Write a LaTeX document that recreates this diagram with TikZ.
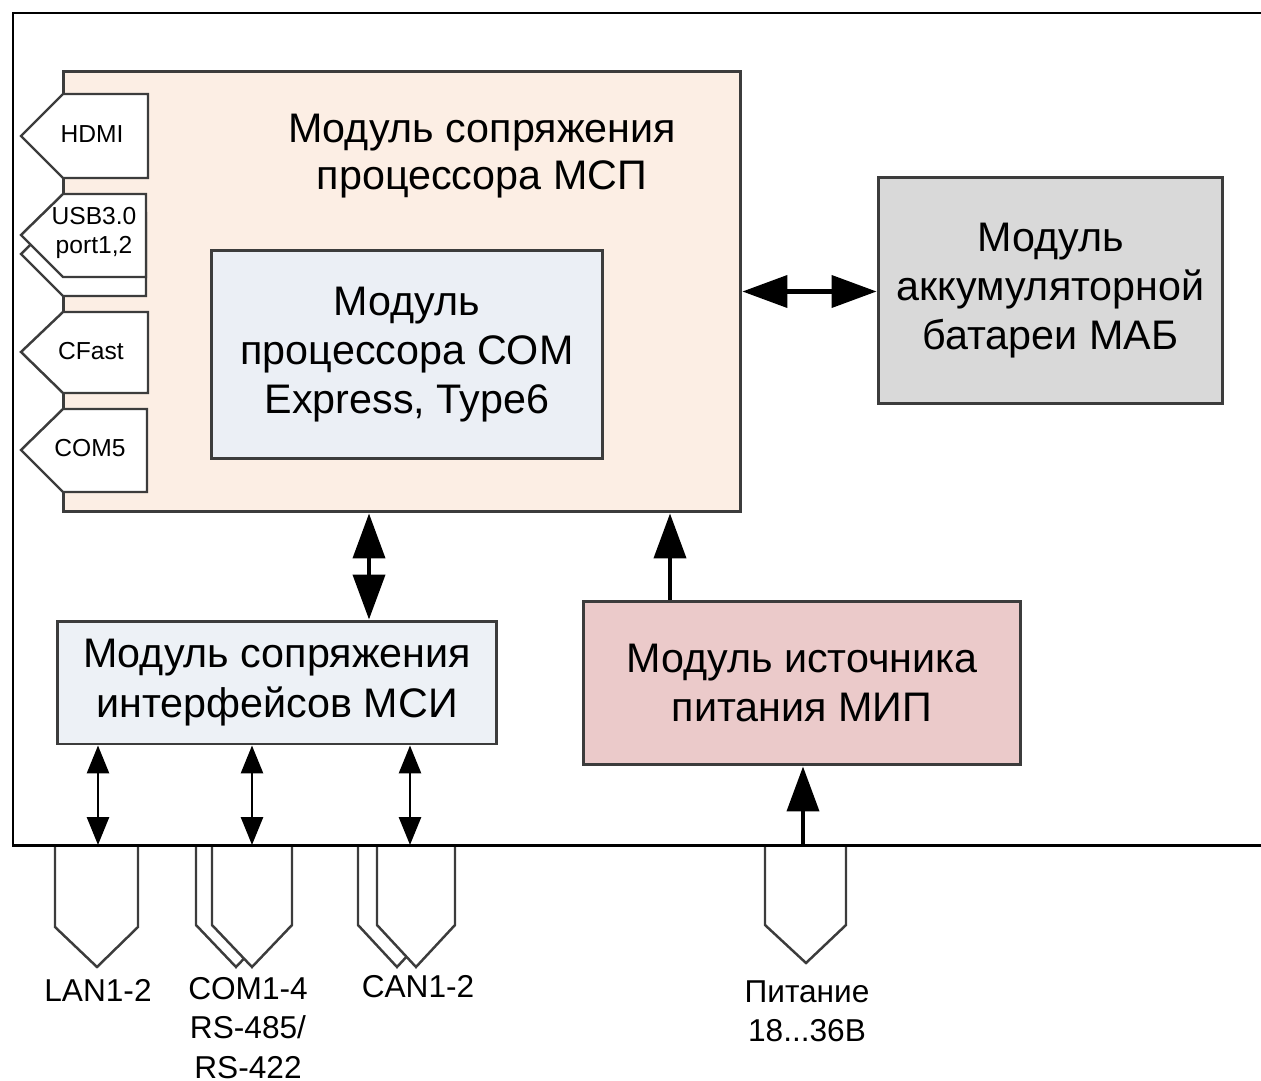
\documentclass[tikz,border=0pt]{standalone}
\usepackage{fontspec}
\setmainfont{Liberation Sans}
\usetikzlibrary{arrows.meta}
\definecolor{mspfill}{HTML}{FCEEE4}
\definecolor{comfill}{HTML}{EBEFF5}
\definecolor{mabfill}{HTML}{D9D9D9}
\definecolor{msifill}{HTML}{EDF1F6}
\definecolor{mipfill}{HTML}{EBCACA}
\definecolor{boxline}{HTML}{3C3C3C}
\begin{document}
\begin{tikzpicture}[x=0.02cm,y=-0.02cm,
  box/.style={draw=boxline, line width=1.7pt, inner sep=0pt, align=center,
    font=\fontsize{23.5}{28}\selectfont},
  title/.style={align=center, inner sep=0pt, font=\fontsize{23.5}{26.5}\selectfont},
  conn/.style={draw=boxline, fill=white, line width=1.4pt, line join=miter},
  clabel/.style={inner sep=0pt, align=center, font=\fontsize{14}{17}\selectfont},
  blabel/.style={inner sep=0pt, align=center, font=\fontsize{18}{22.5}\selectfont},
  frame/.style={draw=black, line width=1.7pt},
  bigarrow/.style={line width=2.3pt, -{Triangle[length=0.9cm, width=0.64cm]}},
  bigboth/.style={line width=2.3pt, {Triangle[length=0.9cm, width=0.64cm]}-{Triangle[length=0.9cm, width=0.64cm]}},
  smallboth/.style={line width=1.6pt, {Triangle[length=0.56cm, width=0.44cm]}-{Triangle[length=0.56cm, width=0.44cm]}}
]
\useasboundingbox (0,0) rectangle (1261,1081);

% main boxes
\node[box, fill=mspfill, minimum width=13.56cm, minimum height=8.82cm] (msp) at (402,291.5) {};
\node[title] (msptitle) at (482,156) {Модуль сопряжения\\процессора МСП};
\node[box, fill=comfill, minimum width=7.84cm, minimum height=4.18cm] (com) at (407,354.5)
  {Модуль\\процессора COM\\Express, Type6};
\node[box, fill=mabfill, minimum width=6.9cm, minimum height=4.54cm] (mab) at (1050.5,290.5)
  {Модуль\\аккумуляторной\\батареи МАБ};
\node[box, fill=msifill, minimum width=8.8cm, minimum height=2.46cm] (msi) at (277,682.5)
  {Модуль сопряжения\\интерфейсов МСИ};
\node[box, fill=mipfill, minimum width=8.76cm, minimum height=3.28cm] (mip) at (802,683)
  {Модуль источника\\питания МИП};

% left connectors
\draw[conn] (63,94) -- (148,94) -- (148,178) -- (63,178) -- (21,136) -- cycle;
\node[clabel] (hdmi) at (92,134) {HDMI};
\draw[conn] (63,213) -- (146,213) -- (146,296) -- (63,296) -- (21,254) -- cycle;
\draw[conn] (63,194) -- (146,194) -- (146,277) -- (63,277) -- (21,235) -- cycle;
\node[clabel] (usb) at (94,233) {USB3.0\\port1,2};
\draw[conn] (63,312) -- (148,312) -- (148,393) -- (63,393) -- (21,352) -- cycle;
\node[clabel] (cfast) at (91,351) {CFast};
\draw[conn] (63,409) -- (147,409) -- (147,492) -- (63,492) -- (21,450) -- cycle;
\node[clabel] (com5) at (90,448) {COM5};

% bottom connectors
\draw[conn] (55,845) -- (55,927) -- (97,967) -- (138,927) -- (138,845);
\draw[conn] (196,845) -- (196,925) -- (236,967) -- (276,925) -- (276,845);
\draw[conn] (212,845) -- (212,925) -- (252,967) -- (292,925) -- (292,845);
\draw[conn] (358,845) -- (358,925) -- (397,967) -- (436,925) -- (436,845);
\draw[conn] (377,845) -- (377,925) -- (416,967) -- (455,925) -- (455,845);
\draw[conn] (765,845) -- (765,925) -- (806,963) -- (846,925) -- (846,845);

% outer frame
\draw[frame] (1261,13) -- (13,13) -- (13,845) -- (1261,845);

% connector coordinates
\coordinate (lan) at (98,845);
\coordinate (comc) at (252,845);
\coordinate (canc) at (410,845);
\coordinate (pit) at (803,845);
\coordinate (xa) at (369,0);
\coordinate (xb) at (670,0);

% arrows
\draw[bigboth] (msp.east) -- (msp.east -| mab.west);
\draw[bigboth] (msp.south -| xa) -- (msi.north -| xa);
\draw[bigarrow] (mip.north -| xb) -- (msp.south -| xb);
\draw[bigarrow] (pit) -- (pit |- mip.south);
\draw[smallboth] (lan |- msi.south) -- (lan);
\draw[smallboth] (comc |- msi.south) -- (comc);
\draw[smallboth] (canc |- msi.south) -- (canc);

% bottom labels
\node[blabel] (lanl) at (98,990) {LAN1-2};
\node[blabel, anchor=north] (coml) at (248,977) {COM1-4\\RS-485/\\RS-422};
\node[blabel] (canl) at (418,987) {CAN1-2};
\node[blabel, anchor=north] (pitl) at (807,980) {Питание\\18...36В};
\end{tikzpicture}
\end{document}
